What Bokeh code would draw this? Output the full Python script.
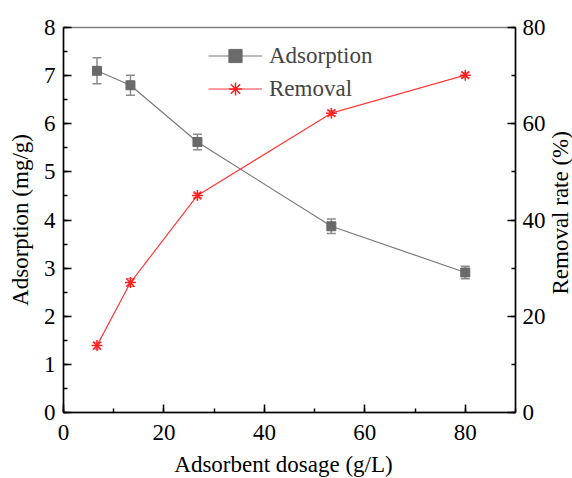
import math
from bokeh.plotting import figure
from bokeh.layouts import row, column
from bokeh.core.properties import value
from bokeh.models import (LinearAxis, Range1d, SingleIntervalTicker, Whisker, TeeHead,
                          ColumnDataSource, Legend, LegendItem)
from bokeh.embed import file_html
from bokeh.resources import INLINE

dosage = [6.67, 13.33, 26.67, 53.33, 80.0]
adsorption = [7.1, 6.8, 5.62, 3.87, 2.91]
adsorption_err = [0.27, 0.21, 0.16, 0.15, 0.13]
removal = [13.9, 27.0, 45.1, 62.2, 70.1]
removal_err = [0.7, 0.8, 0.5, 0.5, 0.5]
x_title = "Adsorbent dosage (g/L)"
y_title = "Adsorption (mg/g)"
y2_title = "Removal rate (%)"

FONT = "'Liberation Serif'"
FS = "23px"

p = figure(width=548, height=455, output_backend="svg", toolbar_location=None,
           x_range=Range1d(0, 90), y_range=Range1d(0, 8),
           min_border_left=63, min_border_right=30, min_border_top=27, min_border_bottom=43,
           y_axis_label=y_title)
p.extra_y_ranges = {"rem": Range1d(0, 80)}
p.grid.visible = False
p.outline_line_color = "#808080"
p.outline_line_width = 1.5
p.background_fill_color = "white"
p.border_fill_color = "white"

ry = LinearAxis(y_range_name="rem")
p.add_layout(ry, "right")

p.xaxis.ticker = SingleIntervalTicker(interval=20, num_minor_ticks=2)
p.yaxis[0].ticker = SingleIntervalTicker(interval=1, num_minor_ticks=2)
ry.ticker = SingleIntervalTicker(interval=20, num_minor_ticks=2)

for ax in [p.xaxis[0], p.yaxis[0], ry]:
    ax.major_tick_in = 8
    ax.major_tick_out = 0
    ax.minor_tick_in = 4
    ax.minor_tick_out = 0
    ax.axis_line_width = 1.5
    ax.major_tick_line_width = 1.5
    ax.minor_tick_line_width = 1.5
    ax.axis_line_color = "black"
    ax.major_label_text_font = FONT
    ax.major_label_text_font_size = FS
    ax.major_label_text_color = "black"
    ax.axis_label_text_font = FONT
    ax.axis_label_text_font_size = FS
    ax.axis_label_text_font_style = "normal"
    ax.axis_label_text_color = "black"

p.xaxis[0].major_label_standoff = 12
p.yaxis[0].major_label_standoff = 8
p.yaxis[0].axis_label_standoff = 8
ry.major_label_standoff = 7

src_a = ColumnDataSource(dict(x=dosage, y=adsorption,
                              up=[a + e for a, e in zip(adsorption, adsorption_err)],
                              lo=[a - e for a, e in zip(adsorption, adsorption_err)]))
src_r = ColumnDataSource(dict(x=dosage, y=removal,
                              up=[a + e for a, e in zip(removal, removal_err)],
                              lo=[a - e for a, e in zip(removal, removal_err)]))

wa = Whisker(source=src_a, base="x", upper="up", lower="lo", line_color="#8c8c8c", line_width=1.5,
             upper_head=TeeHead(size=9, line_color="#8c8c8c", line_width=1.5),
             lower_head=TeeHead(size=9, line_color="#8c8c8c", line_width=1.5))
p.add_layout(wa)
wr = Whisker(source=src_r, base="x", upper="up", lower="lo", y_range_name="rem",
             line_color="#ff5050", line_width=1,
             upper_head=TeeHead(size=9, line_color="#ff5050", line_width=1),
             lower_head=TeeHead(size=9, line_color="#ff5050", line_width=1))
p.add_layout(wr)

la = p.line("x", "y", source=src_a, line_color="#7a7a7a", line_width=1.2)
ma = p.scatter("x", "y", source=src_a, marker="square", size=9, fill_color="#6a6a6a",
               line_color="#6a6a6a")
lr = p.line("x", "y", source=src_r, line_color="#ff3b3b", line_width=1.2, y_range_name="rem")
mr = p.scatter("x", "y", source=src_r, marker="asterisk", size=11, line_color="#ff2020",
               line_width=1.5, y_range_name="rem")

legend = Legend(items=[LegendItem(label="Adsorption", renderers=[la, ma]),
                       LegendItem(label="Removal", renderers=[lr, mr])],
                location=(145, 307), padding=0, margin=0, spacing=0,
                glyph_width=54, glyph_height=33, label_standoff=7,
                label_text_font=FONT, label_text_font_size=FS,
                border_line_color=None, background_fill_alpha=0)
p.add_layout(legend, "center")


def title_fig(w, h):
    f = figure(width=w, height=h, output_backend="svg", toolbar_location=None,
               x_range=Range1d(0, w), y_range=Range1d(0, h),
               x_axis_location=None, y_axis_location=None,
               min_border=0, min_border_left=0, min_border_right=0,
               min_border_top=0, min_border_bottom=0)
    f.grid.visible = False
    f.outline_line_color = None
    f.background_fill_color = "white"
    f.border_fill_color = "white"
    return f


# right-hand title (reads bottom-to-top)
p2 = title_fig(24, 455)
p2.text(x=[11.5], y=[236], text=[y2_title], angle=math.pi / 2,
        text_align="center", text_baseline="alphabetic",
        text_font=value(FONT), text_font_size=value(FS), text_color="black")

# bottom title
p3 = title_fig(572, 23)
p3.text(x=[283], y=[14], text=[x_title], text_align="center", text_baseline="alphabetic",
        text_font=value(FONT), text_font_size=value(FS), text_color="black")

layout = column(row(p, p2, spacing=0), p3, spacing=0)

open("out.html", "w").write(file_html(layout, INLINE))
